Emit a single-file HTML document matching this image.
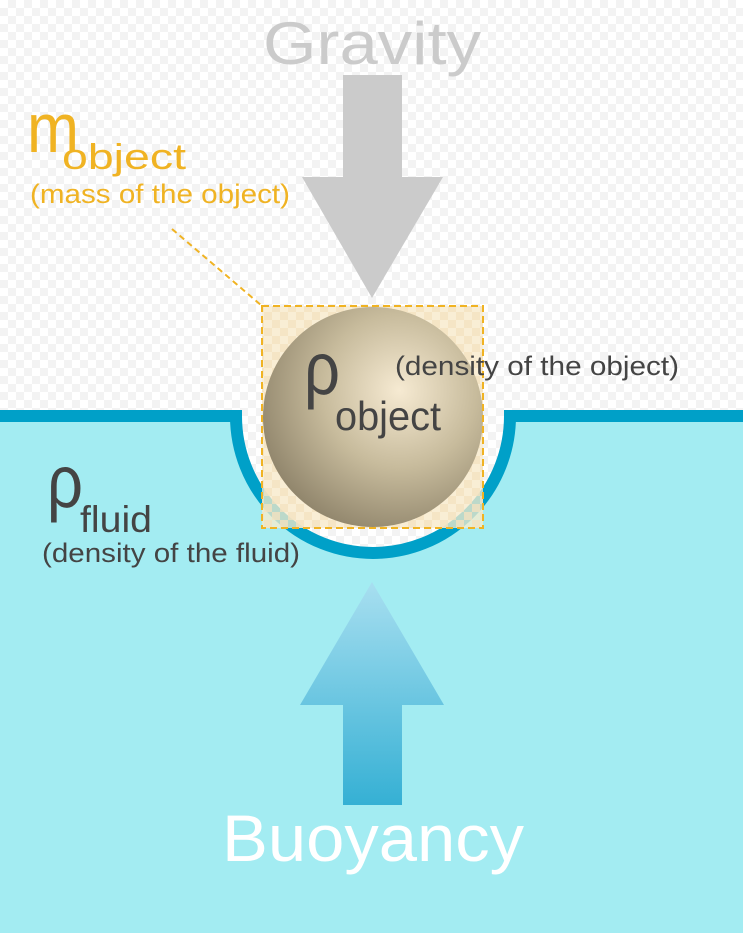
<!DOCTYPE html>
<html><head><style>
html,body{margin:0;padding:0;width:743px;height:933px;overflow:hidden}
body{background-color:#fff;background-image:linear-gradient(45deg,#f3f3f3 25%,transparent 25%,transparent 75%,#f3f3f3 75%),linear-gradient(45deg,#f3f3f3 25%,transparent 25%,transparent 75%,#f3f3f3 75%);background-size:16px 16px;background-position:0 0,8px 8px}
svg{position:absolute;left:0;top:0}
text{font-family:"Liberation Sans",sans-serif}
</style></head><body>
<svg width="743" height="933" viewBox="0 0 743 933">
<defs>
<radialGradient id="ball" cx="0.62" cy="0.38" r="0.7">
<stop offset="0" stop-color="#f6ead2"/>
<stop offset="0.5" stop-color="#c7bb9c"/>
<stop offset="1" stop-color="#8c8168"/>
</radialGradient>
<linearGradient id="buoy" x1="0" y1="0" x2="0" y2="1">
<stop offset="0" stop-color="#a8dff0"/>
<stop offset="1" stop-color="#35b0d4"/>
</linearGradient>
<pattern id="chk" width="16" height="16" patternUnits="userSpaceOnUse">
<rect width="16" height="16" fill="#fbeccb" opacity="0.75"/>
<rect width="8" height="8" fill="#f3e2c0" opacity="0.8"/>
<rect x="8" y="8" width="8" height="8" fill="#f3e2c0" opacity="0.8"/>
</pattern>
</defs>
<path d="M0 416 L236 416 A137 137 0 0 0 510 416 L743 416 L743 933 L0 933 Z" fill="#a3ecf2"/>
<path d="M0 416 L236 416 A137 137 0 0 0 510 416 L743 416" fill="none" stroke="#00a0c8" stroke-width="12"/>
<polygon points="343,75 402,75 402,177 443,177 372,298 302,177 343,177" fill="#cbcbcb"/>
<text x="372" y="64" font-size="60" fill="#cbcbcb" text-anchor="middle" textLength="218" lengthAdjust="spacingAndGlyphs">Gravity</text>
<text x="27" y="152" font-size="70" fill="#f0b323" textLength="52" lengthAdjust="spacingAndGlyphs">m</text>
<text x="62" y="169" font-size="36" fill="#f0b323" textLength="124" lengthAdjust="spacingAndGlyphs">object</text>
<text x="30" y="203" font-size="27" fill="#f0b323" textLength="260" lengthAdjust="spacingAndGlyphs">(mass of the object)</text>
<line x1="172" y1="229" x2="262" y2="306" stroke="#f0b323" stroke-width="2" stroke-dasharray="6,4"/>
<rect x="262" y="306" width="221" height="222" fill="url(#chk)"/>
<circle cx="373" cy="417" r="110" fill="url(#ball)"/>
<rect x="262" y="306" width="221" height="222" fill="none" stroke="#f0b323" stroke-width="2" stroke-dasharray="7,4"/>
<text x="395" y="375" font-size="27" fill="#444" textLength="284" lengthAdjust="spacingAndGlyphs">(density of the object)</text>
<text x="304" y="394" font-size="74" fill="#444" textLength="36" lengthAdjust="spacingAndGlyphs">ρ</text>
<text x="335" y="430" font-size="41" fill="#444" textLength="106" lengthAdjust="spacingAndGlyphs">object</text>
<text x="47" y="507" font-size="74" fill="#444" textLength="36" lengthAdjust="spacingAndGlyphs">ρ</text>
<text x="80" y="532" font-size="37" fill="#444" textLength="72" lengthAdjust="spacingAndGlyphs">fluid</text>
<text x="42" y="562" font-size="27" fill="#444" textLength="258" lengthAdjust="spacingAndGlyphs">(density of the fluid)</text>
<polygon points="372,582 444,705 402,705 402,805 343,805 343,705 300,705" fill="url(#buoy)"/>
<text x="373" y="861" font-size="66" fill="#fff" text-anchor="middle" textLength="302" lengthAdjust="spacingAndGlyphs">Buoyancy</text>
</svg>
</body></html>
